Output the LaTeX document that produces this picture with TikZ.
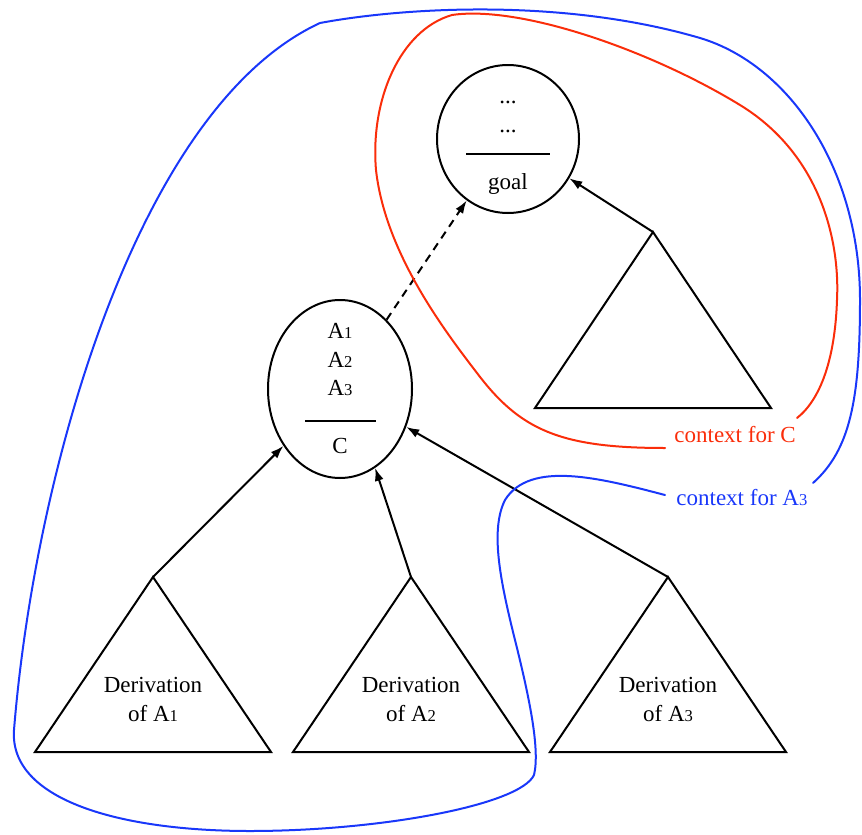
\documentclass[tikz,border=0pt]{standalone}
\usepackage{fontspec}
\setmainfont{Liberation Serif}
\usetikzlibrary{arrows.meta,shapes.geometric}
\definecolor{ctxred}{RGB}{250,45,10}
\definecolor{ctxblue}{RGB}{25,55,250}
\newcommand{\dsub}[1]{{\fontsize{8.3}{9}\selectfont #1}}
\begin{document}
\begin{tikzpicture}[x=0.5pt,y=-0.5pt,
  txt/.style={font=\fontsize{11.5}{14}\selectfont, inner sep=0pt, anchor=base},
  formula/.style={draw, line width=1pt, ellipse, inner sep=0pt},
  tri/.style={draw, line width=1pt, line join=miter},
  arr/.style={line width=1pt, -{Latex[length=6.5pt,width=4.5pt]}},
  rulel/.style={line width=1pt},
  ctx/.style={line width=1pt, line cap=round, line join=round},
]
\useasboundingbox (0,0) rectangle (862,835);

% formula nodes
\node[formula, minimum width=71pt, minimum height=74pt] (goal) at (508,139) {};
\node[formula, minimum width=72pt, minimum height=89pt] (A) at (340,389) {};

% contents of goal
\node[txt] (g1) at (508,103) {...};
\node[txt] (g2) at (508,132) {...};
\draw[rulel] (466,154) -- (550,154);
\node[txt] (g3) at (508,189) {goal};

% contents of A
\node[txt] (a1) at (340,338) {A\dsub{1}};
\node[txt] (a2) at (340,367) {A\dsub{2}};
\node[txt] (a3) at (340,395) {A\dsub{3}};
\draw[rulel] (305,421) -- (376,421);
\node[txt] (ac) at (340,453) {C};

% triangles
\coordinate (t1a) at (153,577); \coordinate (t1l) at (35,752); \coordinate (t1r) at (271,752);
\coordinate (t2a) at (411,577); \coordinate (t2l) at (293,752); \coordinate (t2r) at (529,752);
\coordinate (t3a) at (668,577); \coordinate (t3l) at (550,752); \coordinate (t3r) at (786,752);
\coordinate (t4a) at (653,232); \coordinate (t4l) at (535,408); \coordinate (t4r) at (771,408);
\draw[tri] (t1a) -- (t1l) -- (t1r) -- cycle;
\draw[tri] (t2a) -- (t2l) -- (t2r) -- cycle;
\draw[tri] (t3a) -- (t3l) -- (t3r) -- cycle;
\draw[tri] (t4a) -- (t4l) -- (t4r) -- cycle;

\node[txt] (d1a) at (153,692) {Derivation};
\node[txt] (d1b) at (153,721) {of A\dsub{1}};
\node[txt] (d2a) at (411,692) {Derivation};
\node[txt] (d2b) at (411,721) {of A\dsub{2}};
\node[txt] (d3a) at (668,692) {Derivation};
\node[txt] (d3b) at (668,721) {of A\dsub{3}};

% arrows
\draw[arr] (t1a) -- (A);
\draw[arr] (t2a) -- (A.-66);
\draw[arr] (t3a) -- (A);
\draw[arr] (t4a) -- (goal);
\draw[arr, dash pattern=on 4pt off 3pt] (A) -- (goal);

% labels
\node[txt, text=ctxred, anchor=base west] (lblC) at (674,442) {context for C};
\node[txt, text=ctxblue, anchor=base west] (lblA) at (676,505) {context for A\dsub{3}};

% red context
\coordinate (redS) at (665,448);
\coordinate (redE) at (797,418);
\draw[ctx, ctxred] (redS)
 .. controls (560,448) and (520,430) .. (477,373)
 .. controls (440,325) and (385,250) .. (376,170)
 .. controls (370,100) and (400,30) .. (452,15)
 .. controls (520,5) and (650,50) .. (740,105)
 .. controls (820,154) and (840,240) .. (837,300)
 .. controls (835,360) and (820,400) .. (redE);

% blue context
\coordinate (blueS) at (665,495);
\coordinate (blueE) at (813,483);
\draw[ctx, ctxblue] (blueS)
 .. controls (600,478) and (530,460) .. (505,500)
 .. controls (490,530) and (500,580) .. (515,640)
 .. controls (530,700) and (540,750) .. (534,775)
 .. controls (520,805) and (380,831) .. (250,831)
 .. controls (120,831) and (9,800) .. (14,730)
 .. controls (35,470) and (138,107) .. (320,23)
 .. controls (400,8) and (560,-3) .. (700,38)
 .. controls (790,65) and (860,170) .. (860,300)
 .. controls (860,400) and (850,450) .. (blueE);
\end{tikzpicture}
\end{document}
